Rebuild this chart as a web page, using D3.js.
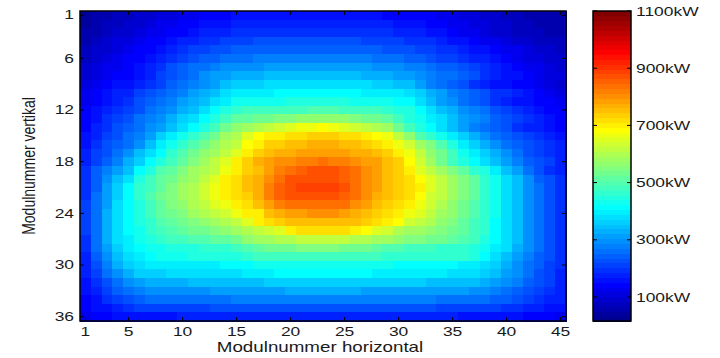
<!DOCTYPE html>
<html><head><meta charset="utf-8">
<script src="https://cdn.jsdelivr.net/npm/d3@7"></script>
<style>html,body{margin:0;padding:0;background:#fff;}svg{display:block;font-family:"Liberation Sans",Arial,sans-serif;}</style>
</head><body>
<svg id="chart" width="720" height="358"></svg>
<script>
// ---- data ----
const columns = d3.range(1, 46);          // Modulnummer horizontal
const rowNums = d3.range(1, 37);          // Modulnummer vertikal
const xTicks = [1, 5, 10, 15, 20, 25, 30, 35, 40, 45];
const yTicks = [1, 6, 12, 18, 24, 30, 36];
const cbTicks = [100, 300, 500, 700, 900, 1100];
const cbTickLabels = ["100kW", "300kW", "500kW", "700kW", "900kW", "1100kW"];
const cRange = [16, 1100];
const xTitle = "Modulnummer horizontal";
const yTitle = "Modulnummer vertikal";
// power per module in kW, one array per row (row 1 at top)
const power = [
[42,50,58,67,76,85,95,105,115,123,132,138,145,150,155,158,161,162,164,164,165,165,165,165,164,162,160,155,150,150,150,145,140,130,120,110,102,95,88,80,73,66,60,55,50],
[47,57,68,78,88,98,108,118,128,136,145,152,160,166,172,175,178,180,182,182,183,183,183,183,182,180,178,174,170,166,162,156,148,140,130,120,110,102,94,86,78,70,63,57,52],
[52,66,80,90,100,111,122,132,142,151,160,169,178,185,192,195,198,200,201,202,202,202,202,202,201,200,198,195,190,185,178,170,162,152,142,131,120,110,100,91,83,75,68,62,57],
[60,76,92,104,115,125,135,147,158,170,182,191,200,208,215,218,220,221,222,223,223,224,224,224,223,221,219,216,212,207,201,194,186,177,166,155,143,131,120,109,99,90,81,74,67],
[68,84,100,113,125,137,148,163,178,192,205,215,225,233,240,242,243,244,245,246,247,248,248,248,247,245,243,240,236,231,225,218,210,201,191,180,168,155,142,130,118,107,97,88,80],
[75,94,112,125,138,149,160,178,195,210,225,238,250,259,268,270,272,274,275,276,277,278,278,278,277,275,272,268,263,257,250,240,229,219,208,196,183,169,155,141,128,116,105,95,86],
[85,103,120,133,145,162,178,200,222,240,258,270,282,290,298,301,303,305,307,308,309,310,310,310,309,307,304,300,295,289,282,272,262,250,237,223,208,192,176,160,145,131,118,106,95],
[95,112,130,140,150,165,180,205,230,250,270,288,305,318,330,333,335,338,340,342,343,344,345,345,343,340,337,333,328,320,310,298,284,270,254,237,220,202,185,168,152,138,125,114,104],
[108,124,140,153,165,180,195,218,240,260,280,300,320,338,355,362,368,373,378,381,383,384,385,385,383,380,376,370,362,352,340,313,285,262,240,220,200,182,165,155,145,135,122,110,100],
[118,137,155,170,185,203,220,241,262,284,305,328,350,373,395,399,402,405,408,410,411,412,412,412,411,409,405,400,395,390,385,360,330,308,285,262,240,220,200,188,175,162,150,132,115],
[128,144,160,180,200,220,240,260,280,305,330,353,375,403,430,431,432,435,438,441,443,444,445,444,442,439,435,430,424,418,410,380,350,320,292,265,242,220,200,180,168,158,150,135,120],
[135,155,175,195,215,235,255,278,300,325,350,380,410,440,470,474,478,482,485,488,490,491,492,491,489,485,480,474,466,455,440,410,380,350,325,300,278,255,235,215,195,178,162,148,135],
[145,168,190,213,235,255,275,300,325,355,385,420,455,483,510,520,530,538,545,553,560,563,565,563,558,550,540,528,510,485,455,425,400,372,345,318,295,272,252,232,215,200,182,165,150],
[150,175,200,220,240,265,290,315,340,380,420,455,490,525,560,580,600,615,630,645,660,675,690,675,658,640,620,598,575,530,480,440,410,380,345,315,285,262,240,220,200,185,170,157,145],
[160,185,210,232,255,280,310,355,395,430,460,500,540,580,600,650,680,695,705,712,720,728,730,728,720,712,702,690,670,620,560,505,460,425,390,355,322,292,268,245,225,207,190,175,160],
[165,195,220,245,270,300,350,390,425,460,500,540,570,605,625,680,710,728,740,748,755,762,765,762,755,745,735,718,695,665,640,590,550,500,450,405,365,330,295,265,242,220,205,190,172],
[175,205,230,260,290,340,385,415,460,500,530,560,590,625,650,705,740,760,770,778,785,792,795,792,785,776,765,750,728,700,665,610,570,530,480,435,400,360,325,290,260,235,215,198,180],
[180,210,240,280,325,370,415,455,490,520,550,580,615,650,700,735,765,785,798,808,818,826,830,826,818,808,795,780,760,730,690,635,580,530,485,450,410,380,345,310,280,252,228,205,185],
[190,240,280,315,350,410,455,500,520,550,575,595,625,660,710,740,760,785,815,840,858,866,868,868,850,830,800,780,755,730,705,650,615,580,550,510,470,440,400,350,305,260,230,200,185],
[195,245,300,340,385,440,480,510,540,565,585,615,650,700,720,745,775,805,845,870,875,877,877,877,862,842,808,782,755,732,718,692,645,612,580,548,510,470,430,385,340,295,252,220,190],
[200,250,310,360,415,460,490,520,550,575,600,630,665,710,725,745,775,820,860,877,880,880,880,880,865,845,810,782,755,732,722,695,645,615,582,550,512,472,432,388,342,296,254,222,192],
[200,255,315,365,420,465,495,525,555,580,605,635,665,700,715,740,770,815,850,870,874,874,874,874,860,838,805,778,750,730,718,692,642,612,580,548,510,470,430,385,340,295,255,222,192],
[205,260,320,375,410,450,490,520,545,570,595,620,645,670,700,720,745,780,815,835,840,842,842,842,830,810,785,760,738,718,702,672,630,600,570,540,505,468,428,385,340,296,256,224,194],
[205,265,325,380,410,445,480,510,535,555,575,595,620,640,660,695,710,745,770,785,795,797,797,797,790,775,752,730,712,695,672,645,615,588,560,530,498,462,425,383,340,298,258,226,196],
[205,265,330,380,410,440,470,500,520,540,555,570,590,605,620,650,700,720,735,745,752,755,755,755,752,745,735,722,705,680,640,615,595,572,548,520,490,458,422,382,340,298,260,228,198],
[205,265,330,380,410,435,460,485,500,515,530,540,555,565,575,595,615,640,655,710,720,722,722,722,720,705,690,650,630,605,590,575,560,545,530,510,490,460,420,385,340,295,260,230,200],
[200,260,325,375,405,425,445,465,475,485,495,505,510,515,525,560,575,585,595,605,618,622,622,620,615,605,595,585,575,565,555,545,535,525,510,495,478,452,418,382,340,295,258,228,198],
[195,255,315,365,395,410,425,435,445,450,455,460,465,470,480,505,515,525,535,540,542,542,542,542,540,535,525,515,505,495,485,480,475,470,465,458,445,428,405,372,335,292,255,225,195],
[185,245,300,345,380,405,420,430,435,438,440,440,440,442,445,470,475,480,485,487,488,488,488,488,487,485,480,475,470,465,460,460,460,460,460,458,440,420,385,350,315,285,250,220,190],
[178,232,285,325,360,385,395,400,400,402,402,404,405,408,410,420,428,432,435,437,438,438,438,438,437,435,432,428,424,420,415,412,410,410,408,405,395,380,355,328,300,270,240,212,188],
[172,218,260,300,335,355,365,370,372,374,375,376,378,380,385,392,400,405,410,411,412,412,412,412,411,410,406,400,395,392,390,390,390,390,388,386,382,365,345,320,295,265,235,210,185],
[165,200,235,270,300,318,328,332,335,337,338,339,340,342,345,348,352,355,358,360,360,360,360,360,360,359,358,357,356,355,355,355,354,352,350,345,338,328,312,295,275,252,228,205,182],
[155,183,210,240,265,280,290,294,298,300,300,302,305,307,310,313,316,318,320,322,322,322,322,322,322,321,320,319,318,317,316,315,314,312,310,306,302,296,285,270,250,230,210,190,175],
[145,168,190,212,232,245,255,258,262,264,265,267,268,270,272,275,278,280,282,284,285,285,285,285,285,284,283,282,280,278,276,274,272,270,268,265,262,258,250,240,228,215,200,185,170],
[135,152,168,182,195,205,210,213,215,216,218,219,220,221,222,224,226,228,230,231,232,232,232,232,232,231,230,229,228,226,225,223,221,219,217,215,212,210,205,198,190,182,174,166,158],
[122,135,145,155,160,163,165,166,168,169,170,170,170,171,172,173,175,176,177,178,178,178,178,178,178,177,177,176,175,174,173,172,171,170,169,168,166,164,162,160,156,150,144,138,130]
];

// ---- layout ----
const plot = {x0: 80, x1: 566, y0: 11, y1: 321};
const cb = {x0: 593, x1: 631, y0: 11, y1: 321};
const stretch = 1.34;   // horizontal stretch of text in the original
const ink = "#1a1a1a";

// MATLAB jet(64)
function jetIdx(i) {
  const u = k => (k < 1 || k > 47) ? 0 : (k <= 16 ? k / 16 : (k <= 31 ? 1 : (48 - k) / 16));
  return d3.rgb(255 * u(i - 24), 255 * u(i - 8), 255 * u(i + 8));
}
function colorOf(v) {
  const idx = Math.max(1, Math.min(64, Math.floor((v - cRange[0]) / (cRange[1] - cRange[0]) * 64) + 1));
  return jetIdx(idx);
}

const svg = d3.select("#chart");
const x = d3.scaleBand().domain(columns).range([plot.x0, plot.x1]).padding(0);
const y = d3.scaleBand().domain(rowNums).range([plot.y0, plot.y1]).padding(0);

const cells = power.flatMap((row, ri) => row.map((v, ci) => ({r: rowNums[ri], c: columns[ci], v})));
svg.append("g").attr("shape-rendering", "crispEdges")
  .selectAll("rect").data(cells).join("rect")
  .attr("x", d => x(d.c)).attr("y", d => y(d.r))
  .attr("width", x.bandwidth() + 0.6).attr("height", y.bandwidth() + 0.6)
  .attr("fill", d => colorOf(d.v));

// axes
function styleAxis(g) {
  g.select(".domain").remove();
  g.selectAll(".tick line").attr("stroke", "#000").attr("stroke-width", 1);
  g.selectAll("text").attr("font-size", 13).attr("fill", ink).attr("font-family", null)
    .attr("transform", `scale(${stretch},1)`);
}
svg.append("g").attr("transform", `translate(0,${plot.y1})`)
  .call(d3.axisBottom(x).tickValues(xTicks).tickSizeInner(-4).tickSizeOuter(0).tickPadding(6))
  .call(styleAxis);
svg.append("g").attr("transform", `translate(0,${plot.y0})`)
  .call(d3.axisTop(x).tickValues(xTicks).tickSizeInner(-4).tickSizeOuter(0).tickFormat(""))
  .call(styleAxis);
svg.append("g").attr("transform", `translate(${plot.x0},0)`)
  .call(d3.axisLeft(y).tickValues(yTicks).tickSizeInner(-4).tickSizeOuter(0).tickPadding(6 / stretch))
  .call(styleAxis);
svg.append("g").attr("transform", `translate(${plot.x1},0)`)
  .call(d3.axisRight(y).tickValues(yTicks).tickSizeInner(-4).tickSizeOuter(0).tickFormat(""))
  .call(styleAxis);

svg.append("rect").attr("x", plot.x0).attr("y", plot.y0)
  .attr("width", plot.x1 - plot.x0).attr("height", plot.y1 - plot.y0)
  .attr("fill", "none").attr("stroke", "#000").attr("stroke-width", 1.5);

// titles
svg.append("text").attr("transform", `translate(${(plot.x0 + plot.x1) / 2 - 3},352) scale(${stretch},1)`)
  .attr("text-anchor", "middle").attr("font-size", 14).attr("fill", ink).text(xTitle);
svg.append("text").attr("transform", `translate(35,${(plot.y0 + plot.y1) / 2}) scale(${stretch},1) rotate(-90)`)
  .attr("text-anchor", "middle").attr("font-size", 14).attr("fill", ink).text(yTitle);

// colorbar
const cbScale = d3.scaleLinear().domain(cRange).range([cb.y1, cb.y0]);
const nBands = 64;
const bandEdges = d3.range(nBands + 1).map(i => cRange[0] + (cRange[1] - cRange[0]) * i / nBands);
svg.append("g").attr("shape-rendering", "crispEdges")
  .selectAll("rect").data(d3.range(nBands)).join("rect")
  .attr("x", cb.x0).attr("width", cb.x1 - cb.x0)
  .attr("y", i => cbScale(bandEdges[i + 1]))
  .attr("height", i => cbScale(bandEdges[i]) - cbScale(bandEdges[i + 1]) + 0.5)
  .attr("fill", i => jetIdx(i + 1));
const cbAxis = svg.append("g");
cbAxis.selectAll("line.l").data(cbTicks).join("line").attr("class", "l")
  .attr("x1", cb.x0).attr("x2", cb.x0 + 4).attr("y1", d => cbScale(d)).attr("y2", d => cbScale(d))
  .attr("stroke", "#000");
cbAxis.selectAll("line.r").data(cbTicks).join("line").attr("class", "r")
  .attr("x1", cb.x1 - 4).attr("x2", cb.x1).attr("y1", d => cbScale(d)).attr("y2", d => cbScale(d))
  .attr("stroke", "#000");
cbAxis.selectAll("text").data(cbTicks).join("text")
  .attr("transform", d => `translate(${cb.x1 + 5},${cbScale(d)}) scale(${stretch},1)`)
  .attr("dy", "0.36em").attr("font-size", 13).attr("fill", ink)
  .text((d, i) => cbTickLabels[i]);
svg.append("rect").attr("x", cb.x0).attr("y", cb.y0)
  .attr("width", cb.x1 - cb.x0).attr("height", cb.y1 - cb.y0)
  .attr("fill", "none").attr("stroke", "#000").attr("stroke-width", 1.5);
</script>
</body></html>
